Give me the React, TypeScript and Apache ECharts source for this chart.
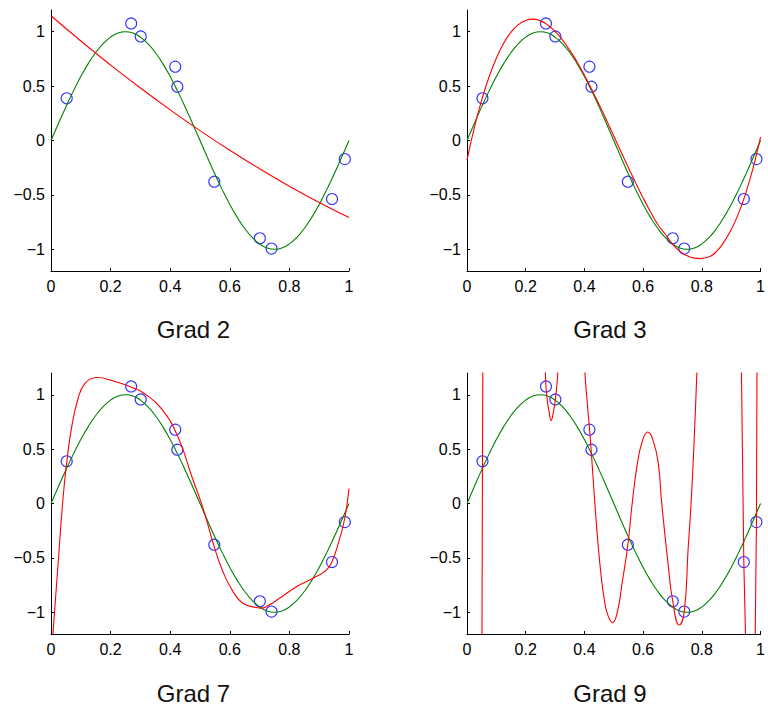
import React, { useEffect, useRef } from "react";
import * as echarts from "echarts";

// Observed noisy samples (blue circles), shared by all four panels
const pointX = [0.0527, 0.269, 0.301, 0.417, 0.424, 0.548, 0.701, 0.74, 0.943, 0.986];
const pointY = [0.388, 1.076, 0.957, 0.679, 0.495, -0.379, -0.899, -0.994, -0.538, -0.171];

// Green reference curve
const greenX = [
  0, 0.025, 0.05, 0.075, 0.1, 0.125, 0.15, 0.175, 0.2, 0.225, 0.25, 0.275, 0.3, 0.325, 0.35, 0.375, 0.4, 0.425, 0.45, 0.475, 0.5,
  0.525, 0.55, 0.575, 0.6, 0.625, 0.65, 0.675, 0.7, 0.725, 0.75, 0.775, 0.8, 0.825, 0.85, 0.875, 0.9, 0.925, 0.95, 0.975, 1,
];
const greenY = [
  0, 0.156, 0.309, 0.454, 0.588, 0.707, 0.809, 0.891, 0.951, 0.988, 1, 0.988, 0.951, 0.891, 0.809, 0.707, 0.588, 0.454, 0.309, 0.156, 0,
  -0.156, -0.309, -0.454, -0.588, -0.707, -0.809, -0.891, -0.951, -0.988, -1, -0.988, -0.951, -0.891, -0.809, -0.707, -0.588, -0.454, -0.309, -0.156, 0,
];

// Red fitted curves
const grad2X = [0, 0.1, 0.2, 0.3, 0.4, 0.5, 0.6, 0.7, 0.8, 0.9, 1];
const grad2Y = [1.147, 0.915, 0.694, 0.483, 0.282, 0.091, -0.09, -0.26, -0.42, -0.57, -0.709];

const grad3X = [
  0, 0.025, 0.05, 0.075, 0.1, 0.125, 0.15, 0.175, 0.2, 0.224, 0.25, 0.275, 0.3, 0.325, 0.35, 0.375, 0.4, 0.425, 0.45, 0.475, 0.5,
  0.525, 0.55, 0.575, 0.6, 0.625, 0.65, 0.675, 0.7, 0.725, 0.75, 0.775, 0.794, 0.825, 0.85, 0.875, 0.9, 0.925, 0.95, 0.975, 1,
];
const grad3Y = [
  -0.18, 0.118, 0.372, 0.584, 0.757, 0.894, 0.996, 1.065, 1.104, 1.116, 1.1, 1.062, 1.003, 0.925, 0.831, 0.722, 0.601, 0.47, 0.332, 0.189, 0.042,
  -0.105, -0.25, -0.392, -0.528, -0.655, -0.772, -0.86, -0.95, -1.02, -1.06, -1.082, -1.086, -1.07, -1.02, -0.935, -0.82, -0.67, -0.48, -0.25, 0.03,
];

const grad7X = [0, 0.0067, 0.0235, 0.0403, 0.0517, 0.0685, 0.0906, 0.113, 0.1466, 0.158, 0.2027, 0.2698, 0.3144, 0.3705, 0.4262, 0.471, 0.499, 0.5158, 0.548, 0.577, 0.611, 0.644, 0.689, 0.705, 0.7228, 0.767, 0.8235, 0.879, 0.924, 0.943, 0.9687, 0.9855, 1];
const grad7Y = [-1.45, -1.193, -0.566, 0.046, 0.351, 0.688, 0.963, 1.1, 1.156, 1.159, 1.131, 1.07, 1.009, 0.872, 0.611, 0.26, 0.046, -0.092, -0.4, -0.627, -0.81, -0.917, -0.957, -0.962, -0.948, -0.872, -0.765, -0.688, -0.612, -0.535, -0.321, -0.138, 0.137];

// Grad 9: the curve leaves the plotting range, so it is kept as visible pieces
const grad9SegA: number[][] = [[0.051, -1.3], [0.0527, 0.388], [0.054, 1.3]];
const grad9SegB: number[][] = [[0.2665, 1.3], [0.269, 1.076], [0.2735, 0.95], [0.28, 0.84], [0.2865, 0.764], [0.2943, 0.84], [0.301, 0.957], [0.3065, 1.1], [0.3115, 1.3]];
const grad9SegC: number[][] = [
  [0.4005, 1.3], [0.4017, 1.2], [0.4095, 0.93], [0.4174, 0.684], [0.4228, 0.498], [0.436, -0.016], [0.446, -0.36], [0.456, -0.64],
  [0.467, -0.87], [0.479, -1.02], [0.4956, -1.095], [0.512, -1.0], [0.529, -0.72], [0.548, -0.379], [0.5627, 0.0], [0.5795, 0.351],
  [0.5963, 0.565], [0.6154, 0.657], [0.6356, 0.565], [0.6523, 0.351], [0.6634, 0.0], [0.686, -0.58], [0.701, -0.899], [0.7228, -1.117],
  [0.74, -0.994], [0.753, -0.43], [0.764, 0.03], [0.775, 0.657], [0.783, 1.2], [0.785, 1.35],
];
const grad9SegD: number[][] = [[0.9345, 1.3], [0.935, 1.2], [0.943, -0.538], [0.9487, -1.2], [0.949, -1.3]];
const grad9SegE: number[][] = [[0.9815, -1.3], [0.986, -0.171], [0.988, 1.3]];

const titles = ["Grad 2", "Grad 3", "Grad 7", "Grad 9"];
const xTicks = [0, 0.2, 0.4, 0.6, 0.8, 1];
const yTicks = [-1, -0.5, 0, 0.5, 1];

const zip = (xs: number[], ys: number[]) => xs.map((x, i) => [x, ys[i]]);

const GRIDS = [
  { left: 51, top: 10, width: 298, height: 261 },
  { left: 467, top: 10, width: 298, height: 261 },
  { left: 51, top: 373, width: 298, height: 261 },
  { left: 467, top: 373, width: 298, height: 261 },
];
const TITLE_POS = [
  [193.5, 329],
  [610, 329],
  [193.5, 693.5],
  [610, 693.5],
];

const FONT = '"Liberation Sans", Arial, Helvetica, sans-serif';

const fmt = (v: number) => {
  const a = Math.round(Math.abs(v) * 100) / 100;
  return v < 0 ? "\u2212" + String(a) : String(a);
};

export default function App() {
  const ref = useRef<HTMLDivElement>(null);
  useEffect(() => {
    if (!ref.current) return;
    const chart = echarts.init(ref.current, null, { renderer: "svg" });

    const straightSegs = [grad9SegA, grad9SegD, grad9SegE];
    const redSets: number[][][][] = [
      [zip(grad2X, grad2Y)],
      [zip(grad3X, grad3Y)],
      [zip(grad7X, grad7Y)],
      [grad9SegA, grad9SegB, grad9SegC, grad9SegD, grad9SegE],
    ];

    const series: any[] = [];
    GRIDS.forEach((_, i) => {
      series.push({
        type: "scatter",
        xAxisIndex: i,
        yAxisIndex: i,
        data: zip(pointX, pointY),
        symbol: "circle",
        symbolSize: 11,
        itemStyle: { color: "rgba(0,0,0,0)", borderColor: "#0000ff", borderWidth: 1.1 },
        z: 2,
        silent: true,
      });
      series.push({
        type: "line",
        xAxisIndex: i,
        yAxisIndex: i,
        data: zip(greenX, greenY),
        smooth: true,
        showSymbol: false,
        lineStyle: { color: "#008000", width: 1.1 },
        z: 3,
        silent: true,
      });
      redSets[i].forEach((seg) => {
        const straight = straightSegs.indexOf(seg) >= 0;
        series.push({
          type: "line",
          xAxisIndex: i,
          yAxisIndex: i,
          data: seg,
          smooth: straight ? false : true,
          showSymbol: false,
          clip: true,
          lineStyle: { color: "#ff0000", width: 1.1 },
          z: 4,
          silent: true,
        });
      });
    });

    const option: any = {
      animation: false,
      grid: GRIDS.map((g) => ({ ...g, containLabel: false })),
      xAxis: GRIDS.map((_, i) => ({
        gridIndex: i,
        type: "value",
        min: 0,
        max: 1,
        interval: 0.2,
        axisLine: { show: true, onZero: false, lineStyle: { color: "#000", width: 1 } },
        axisTick: { show: true, inside: true, length: 3, lineStyle: { color: "#000" }, customValues: xTicks },
        axisLabel: { color: "#000", fontSize: 16, fontFamily: FONT, margin: 7, formatter: fmt, customValues: xTicks },
        splitLine: { show: false },
      })),
      yAxis: GRIDS.map((_, i) => ({
        gridIndex: i,
        type: "value",
        min: -1.2,
        max: 1.2,
        axisLine: { show: true, onZero: false, lineStyle: { color: "#000", width: 1 } },
        axisTick: { show: true, inside: true, length: 3, lineStyle: { color: "#000" }, customValues: yTicks },
        axisLabel: { color: "#000", fontSize: 16, fontFamily: FONT, margin: 6, formatter: fmt, customValues: yTicks },
        splitLine: { show: false },
      })),
      graphic: titles.map((t, i) => ({
        type: "text",
        x: TITLE_POS[i][0],
        y: TITLE_POS[i][1],
        style: {
          text: t,
          font: `24px ${FONT}`,
          fill: "#111",
          align: "center",
          verticalAlign: "middle",
          textAlign: "center",
          textVerticalAlign: "middle",
        },
      })),
      series,
    };
    chart.setOption(option);
    return () => chart.dispose();
  }, []);

  return (
    <div
      ref={ref}
      style={{ position: "absolute", left: 0, top: 0, width: 768, height: 709, background: "#fff" }}
    />
  );
}
